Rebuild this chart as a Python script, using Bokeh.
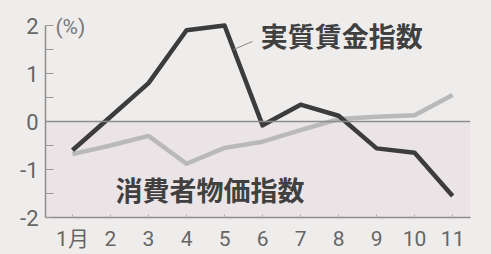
from bokeh.plotting import figure
from bokeh.models import FixedTicker, Span, Label, BoxAnnotation, Range1d
from bokeh.embed import file_html
from bokeh.resources import INLINE

months = [1, 2, 3, 4, 5, 6, 7, 8, 9, 10, 11]
month_labels = ["1月", "2", "3", "4", "5", "6", "7", "8", "9", "10", "11"]
real_wage = [-0.6, 0.1, 0.8, 1.9, 2.0, -0.08, 0.35, 0.12, -0.56, -0.65, -1.55]
cpi = [-0.68, -0.5, -0.3, -0.88, -0.55, -0.42, -0.18, 0.05, 0.1, 0.13, 0.55]
y_ticks = [-2, -1, 0, 1, 2]
y_minor = [-1.5, -0.5, 0.5, 1.5]
y_labels = ["-2", "-1", "0", "1", "2"]

BG = "#efedec"
TICK_FONT = "Roboto, 'Noto Sans CJK JP', sans-serif"
CJK_FONT = "'Noto Sans CJK JP', sans-serif"

p = figure(width=491, height=254, output_backend="svg", toolbar_location=None,
           x_range=Range1d(0.29, 11.47), y_range=Range1d(-2, 2 + 17 / 48),
           min_border_left=45, min_border_right=21, min_border_top=8, min_border_bottom=37)
p.background_fill_color = BG
p.border_fill_color = BG
p.outline_line_color = None
p.grid.grid_line_color = None

p.add_layout(BoxAnnotation(bottom=-2, top=0, fill_color="#ebe4e6", fill_alpha=1.0, line_color=None, level="underlay"))
p.add_layout(Span(location=0, dimension="width", line_color="#8c8c8c", line_width=1.5))

p.line(months, cpi, line_color="#b9b9b9", line_width=4.5, line_join="round")
p.line(months, real_wage, line_color="#3c3c3c", line_width=4.5, line_join="round")

# axes
ya = p.yaxis[0]
ya.ticker = FixedTicker(ticks=y_ticks, minor_ticks=y_minor)
ya.bounds = (-2, 2)
ya.major_label_overrides = {t: l for t, l in zip(y_ticks, y_labels)}
ya.axis_line_color = "#8c8c8c"
ya.axis_line_width = 1.5
ya.major_tick_in = 8
ya.major_tick_out = 0
ya.minor_tick_in = 8
ya.minor_tick_out = 0
ya.major_tick_line_color = "#9a9a9a"
ya.minor_tick_line_color = "#9a9a9a"
ya.major_label_text_font = TICK_FONT
ya.major_label_text_font_size = "22px"
ya.major_label_text_color = "#666666"
ya.major_label_standoff = 7

xa = p.xaxis[0]
xa.ticker = FixedTicker(ticks=months)
xa.major_label_overrides = {m: l for m, l in zip(months, month_labels)}
xa.axis_line_color = "#8c8c8c"
xa.axis_line_width = 1.5
xa.major_tick_in = 3
xa.major_tick_out = 0
xa.major_tick_line_color = "#b0b0b0"
xa.minor_tick_line_color = None
xa.major_label_text_font = TICK_FONT
xa.major_label_text_font_size = "21px"
xa.major_label_text_color = "#666666"
xa.major_label_standoff = 9

# annotations
p.add_layout(Label(x=0.55, y=1.96, text="(%)", text_font=TICK_FONT, text_font_size="21px",
                   text_color="#777777", text_baseline="middle"))
p.add_layout(Label(x=5.95, y=1.79, text="実質賃金指数", text_font=CJK_FONT, text_font_size="27px",
                   text_font_style="bold", text_color="#404040", text_baseline="middle"))
p.add_layout(Label(x=2.13, y=-1.42, text="消費者物価指数", text_font=CJK_FONT, text_font_size="27px",
                   text_font_style="bold", text_color="#404040", text_baseline="middle"))
leader_x = [5.24, 5.74]
leader_y = [1.5, 1.67]
p.line(leader_x, leader_y, line_color="#888888", line_width=1)

html = file_html(p, INLINE)
html = html.replace("<body>", '<body style="background:#efedec">')
open("out.html", "w").write(html)
